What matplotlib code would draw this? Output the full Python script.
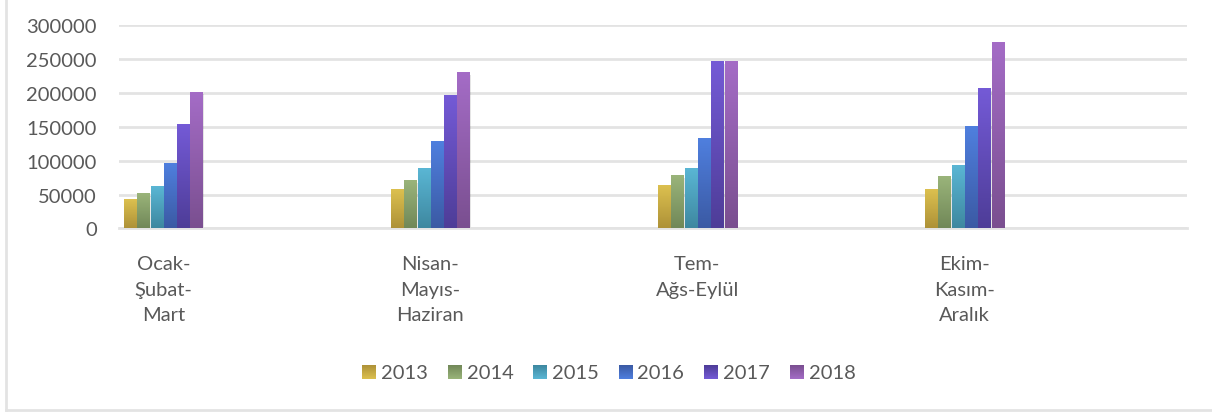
import numpy as np
import matplotlib
matplotlib.use("Agg")
import matplotlib.pyplot as plt
from matplotlib.colors import LinearSegmentedColormap
from matplotlib.patches import Rectangle
from matplotlib.lines import Line2D

plt.rcParams['font.family'] = ['Lato', 'DejaVu Sans']

quarters = ["Ocak-\nŞubat-\nMart", "Nisan-\nMayıs-\nHaziran", "Tem-\nAğs-Eylül", "Ekim-\nKasım-\nAralık"]
years = ["2013", "2014", "2015", "2016", "2017", "2018"]
values = {
    "2013": [42000, 57000, 63000, 57000],
    "2014": [51000, 70000, 77000, 76000],
    "2015": [61000, 88000, 88000, 92000],
    "2016": [95000, 127000, 132000, 149000],
    "2017": [152000, 195000, 245000, 205000],
    "2018": [200000, 229000, 245000, 273000],
}
# top (light) / bottom (dark) of each bar gradient
top_colors = ["#DCC04F", "#9AB47A", "#5AB6D4", "#4F7FDE", "#745AD6", "#A46CC6"]
bot_colors = ["#AE9238", "#718858", "#3E88A0", "#3B5AA4", "#4E3D98", "#7A4F90"]

grey = "#595959"

fig = plt.figure(figsize=(12.12, 4.14), dpi=100)
ax = fig.add_axes([0.0982, 0.4457, 0.8812, 0.4922])

bar_w = 0.045
step = 0.0498
off = 0.0187
grad = np.linspace(0, 1, 64).reshape(-1, 1)
cmaps = [LinearSegmentedColormap.from_list("g%d" % j, [bot_colors[j], top_colors[j]])
         for j in range(len(years))]

for j, yr in enumerate(years):
    for i, v in enumerate(values[yr]):
        x0 = i + off + j * step
        # soft shadow
        for k, a in [(0.006, 0.10), (0.003, 0.12)]:
            ax.add_patch(Rectangle((x0 + k, -2500), bar_w, v, facecolor="#000000",
                                   alpha=a, lw=0, zorder=2))
        ax.imshow(grad, extent=[x0, x0 + bar_w, 0, v], origin="lower", cmap=cmaps[j],
                  aspect="auto", zorder=3, interpolation="bilinear")

ax.set_xlim(0, 4)
ax.set_ylim(0, 300000)
ax.set_yticks(np.arange(0, 300001, 50000))
ax.yaxis.grid(True, color="#E3E3E3", lw=2)
ax.set_axisbelow(True)
for s in ["top", "right", "left"]:
    ax.spines[s].set_visible(False)
ax.spines["bottom"].set_color("#E3E3E3")
ax.spines["bottom"].set_linewidth(2)
ax.set_xticks([])
ax.tick_params(axis="y", length=0, pad=16, labelsize=14.5, labelcolor=grey)

group_c = off + (5 * step + bar_w) / 2
for i, q in enumerate(quarters):
    ax.annotate(q, xy=(i + group_c, 0), xycoords=("data", "axes fraction"),
                xytext=(0, -19), textcoords="offset points", ha="center", va="top",
                fontsize=14.5, color=grey, linespacing=1.62)

# legend with small gradient squares, drawn in its own axes
lax = fig.add_axes([0, 0, 1, 1], facecolor="none")
lax.set_xlim(0, 1212)
lax.set_ylim(414, 0)
lax.axis("off")
for j, yr in enumerate(years):
    sx = 362 + j * 85.5
    lax.imshow(grad, extent=[sx, sx + 14, 380, 366], origin="upper", cmap=cmaps[j],
               aspect="auto", interpolation="bilinear")
    lax.text(sx + 19, 373.5, yr, ha="left", va="center", fontsize=14.5, color=grey)
lax.set_xlim(0, 1212)
lax.set_ylim(414, 0)

# chart border
fig.add_artist(Line2D([6 / 1212, 6 / 1212], [3 / 414, 1.01], color="#E3E3E3", lw=2))
fig.add_artist(Line2D([6 / 1212, 1.01], [3 / 414, 3 / 414], color="#E3E3E3", lw=2))

fig.savefig("out.png", dpi=100)
